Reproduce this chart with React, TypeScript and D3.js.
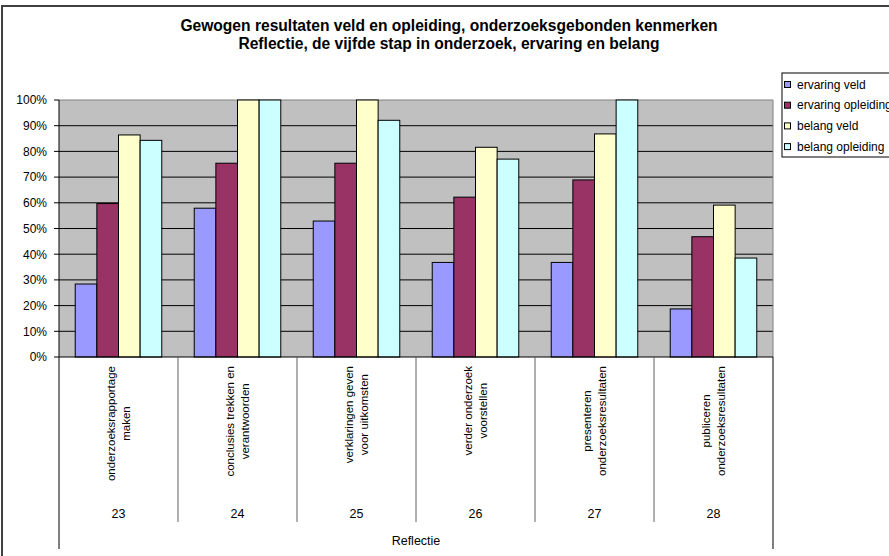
import React from 'react';
import * as d3 from 'd3';

const categories = ['23', '24', '25', '26', '27', '28'];
const categoryLabels = [
  ['onderzoeksrapportage', 'maken'],
  ['conclusies trekken en', 'verantwoorden'],
  ['verklaringen geven', 'voor uitkomsten'],
  ['verder onderzoek', 'voorstellen'],
  ['presenteren', 'onderzoeksresultaten'],
  ['publiceren', 'onderzoeksresultaten'],
];
const groupLabel = 'Reflectie';
const titleLines = [
  'Gewogen resultaten veld en opleiding, onderzoeksgebonden kenmerken',
  'Reflectie, de vijfde stap in onderzoek, ervaring en belang',
];
const seriesNames = ['ervaring veld', 'ervaring opleiding', 'belang veld', 'belang opleiding'];
const ervaringVeld = [28.4, 57.9, 52.9, 36.8, 36.8, 18.7];
const ervaringOpleiding = [59.7, 75.4, 75.4, 62.2, 68.9, 46.8];
const belangVeld = [86.4, 100, 100, 81.6, 86.8, 59.1];
const belangOpleiding = [84.3, 100, 92.1, 77.0, 100, 38.5];
const yTicks = [0, 10, 20, 30, 40, 50, 60, 70, 80, 90, 100];
const colors = ['#9999FF', '#993366', '#FFFFCC', '#CCFFFF'];

const seriesValues = [ervaringVeld, ervaringOpleiding, belangVeld, belangOpleiding];
const FONT = '"Liberation Sans", Arial, sans-serif';

function measure(text: string, size: number) {
  const c = document.createElement('canvas');
  const ctx = c.getContext('2d')!;
  ctx.font = `${size}px "Liberation Sans", Arial, sans-serif`;
  return ctx.measureText(text).width;
}

export default function App() {
  const W = 889, H = 556;
  const left = 59, right = 773, top = 100, bottom = 357;
  const x = d3.scaleBand<string>().domain(categories).range([left, right]).paddingInner(0).paddingOuter(0);
  const xi = d3.scaleBand<string>().domain(seriesNames).range([0, x.bandwidth()]).paddingInner(0).paddingOuter(0.75);
  const y = d3.scaleLinear().domain([0, 100]).range([bottom, top]);
  const labelSize = 11.5;
  const lineGap = 15;

  return (
    <svg width={W} height={H} style={{ position: 'absolute', left: 0, top: 0, background: '#fff' }} fontFamily={FONT}>
      <rect x={2} y={6} width={W + 20} height={H + 20} fill="#fff" stroke="#404040" strokeWidth={2} />
      {titleLines.map((t, i) => (
        <text key={t} x={449} y={31 + i * 18} textAnchor="middle" fontSize={15.6} fontWeight="bold" fill="#000">{t}</text>
      ))}
      {/* plot area */}
      <rect x={left} y={top} width={right - left} height={bottom - top} fill="#C0C0C0" />
      {yTicks.filter(t => t > 0 && t < 100).map(t => (
        <line key={t} x1={left} x2={right} y1={y(t)} y2={y(t)} stroke="#000" strokeWidth={1} />
      ))}
      <line x1={left} x2={right} y1={top} y2={top} stroke="#808080" strokeWidth={1} />
      <line x1={right} x2={right} y1={top} y2={bottom} stroke="#808080" strokeWidth={1} />
      {/* bars */}
      {categories.map((c, ci) => (
        <g key={c}>
          {seriesNames.map((s, si) => {
            const v = seriesValues[si][ci];
            const bx = (x(c) as number) + (xi(s) as number);
            return (
              <rect key={s} x={bx} y={y(v)} width={xi.bandwidth()} height={y(0) - y(v)}
                fill={colors[si]} stroke="#000" strokeWidth={1} />
            );
          })}
        </g>
      ))}
      {/* y axis */}
      <line x1={left} x2={left} y1={top} y2={549} stroke="#000" strokeWidth={1} />
      {yTicks.map(t => (
        <g key={t}>
          <line x1={left - 5} x2={left} y1={y(t)} y2={y(t)} stroke="#000" strokeWidth={1} />
          <text x={47} y={y(t) + 4.3} textAnchor="end" fontSize={12} fill="#000">{t}%</text>
        </g>
      ))}
      {/* x axis */}
      <line x1={left} x2={right} y1={bottom} y2={bottom} stroke="#000" strokeWidth={1} />
      {categories.slice(1).map(c => (
        <line key={c} x1={x(c)} x2={x(c)} y1={bottom} y2={522} stroke="#606060" strokeWidth={1} />
      ))}
      <line x1={right} x2={right} y1={bottom} y2={549} stroke="#000" strokeWidth={1} />
      {categories.map((c, ci) => {
        const cx = (x(c) as number) + x.bandwidth() / 2;
        const lines = categoryLabels[ci];
        const maxW = Math.max(...lines.map(l => measure(l, labelSize)));
        const cy = 366 + maxW / 2;
        return (
          <g key={c}>
            {lines.map((l, li) => {
              const lx = cx + (li - (lines.length - 1) / 2) * lineGap + 4;
              return (
                <text key={li} transform={`translate(${lx},${cy}) rotate(-90)`} textAnchor="middle" fontSize={labelSize} fill="#000">{l}</text>
              );
            })}
            <text x={cx} y={517.5} textAnchor="middle" fontSize={12.5} fill="#000">{c}</text>
          </g>
        );
      })}
      <text x={(left + right) / 2} y={544.5} textAnchor="middle" fontSize={12.5} fill="#000">{groupLabel}</text>
      {/* legend */}
      <rect x={782} y={73} width={130} height={84} fill="#fff" stroke="#000" strokeWidth={1} />
      {seriesNames.map((s, i) => (
        <g key={s}>
          <rect x={784.5} y={81.5 + i * 20.7} width={6} height={6} fill={colors[i]} stroke="#000" strokeWidth={1} />
          <text x={797} y={88.5 + i * 20.7} fontSize={12} fill="#000">{s}</text>
        </g>
      ))}
    </svg>
  );
}
